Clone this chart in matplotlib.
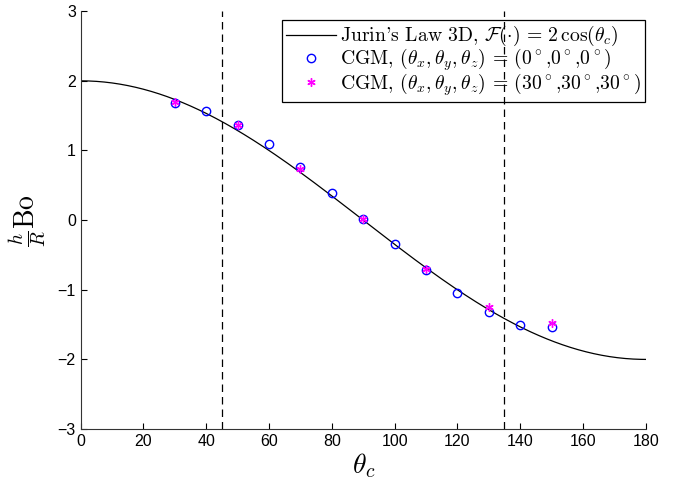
import numpy as np
import matplotlib
matplotlib.use("Agg")
import matplotlib.pyplot as plt

plt.rcParams["mathtext.fontset"] = "cm"
plt.rcParams["font.family"] = ["Liberation Sans", "DejaVu Sans"]
plt.rcParams["axes.formatter.use_mathtext"] = False

# CGM runs, contact angle sweep
theta_a = [30, 40, 50, 60, 70, 80, 90, 100, 110, 120, 130, 140, 150]
h_a = [1.68, 1.56, 1.37, 1.09, 0.76, 0.39, 0.01, -0.34, -0.72, -1.05, -1.32, -1.50, -1.53]
theta_b = [30, 50, 70, 90, 110, 130, 150]
h_b = [1.69, 1.37, 0.73, 0.01, -0.70, -1.25, -1.48]
limits = [45, 135]

theta = np.linspace(0, 180, 361)
jurin = 2 * np.cos(np.deg2rad(theta))

fig = plt.figure(figsize=(6.84, 4.87), dpi=100)
ax = fig.add_axes([0.118, 0.119, 0.826, 0.858])

ax.plot(theta, jurin, color="k", lw=0.9,
        label=r"Jurin's Law 3D, $\mathcal{F}(\cdot)\,=\,2\,\cos(\theta_c)$")
ax.plot(theta_a, h_a, "o", ms=6, mfc="none", mec="#0000ff", mew=1.0,
        label=r"CGM, $(\theta_x,\theta_y,\theta_z)$ = $(0^\circ$,$0^\circ$,$0^\circ)$")
ax.plot(theta_b, h_b, ls="none", marker=(6, 2, 0), ms=6, mec="#ff00ff",
        mew=1.0, label=r"CGM, $(\theta_x,\theta_y,\theta_z)$ = $(30^\circ$,$30^\circ$,$30^\circ)$")
for x in limits:
    ax.axvline(x, color="k", lw=0.9, ls=(0, (6, 4)), zorder=6)

ax.set_xlim(0, 180)
ax.set_ylim(-3, 3)
ax.set_xticks(range(0, 181, 20))
ax.set_yticks(range(-3, 4))
ax.tick_params(direction="in", length=4, labelsize=11.5, width=0.8)
for s in ["top", "right"]:
    ax.spines[s].set_visible(False)
for s in ["left", "bottom"]:
    ax.spines[s].set_linewidth(0.8)
    ax.spines[s].set_color("#333333")

ax.set_xlabel(r"$\theta_c$", fontsize=20, labelpad=2)
ax.set_ylabel(r"$\frac{h}{R}\mathrm{Bo}$", fontsize=20, labelpad=7)

leg = ax.legend(loc="upper right", bbox_to_anchor=(0.998, 0.978),
                prop={"family": "cmr10", "size": 14.2}, fancybox=False,
                edgecolor="k", framealpha=1, handlelength=2.5,
                borderpad=0.2, labelspacing=-0.1, handletextpad=0.2,
                borderaxespad=0)
leg.get_frame().set_linewidth(0.9)

fig.savefig("out.png", dpi=100)
